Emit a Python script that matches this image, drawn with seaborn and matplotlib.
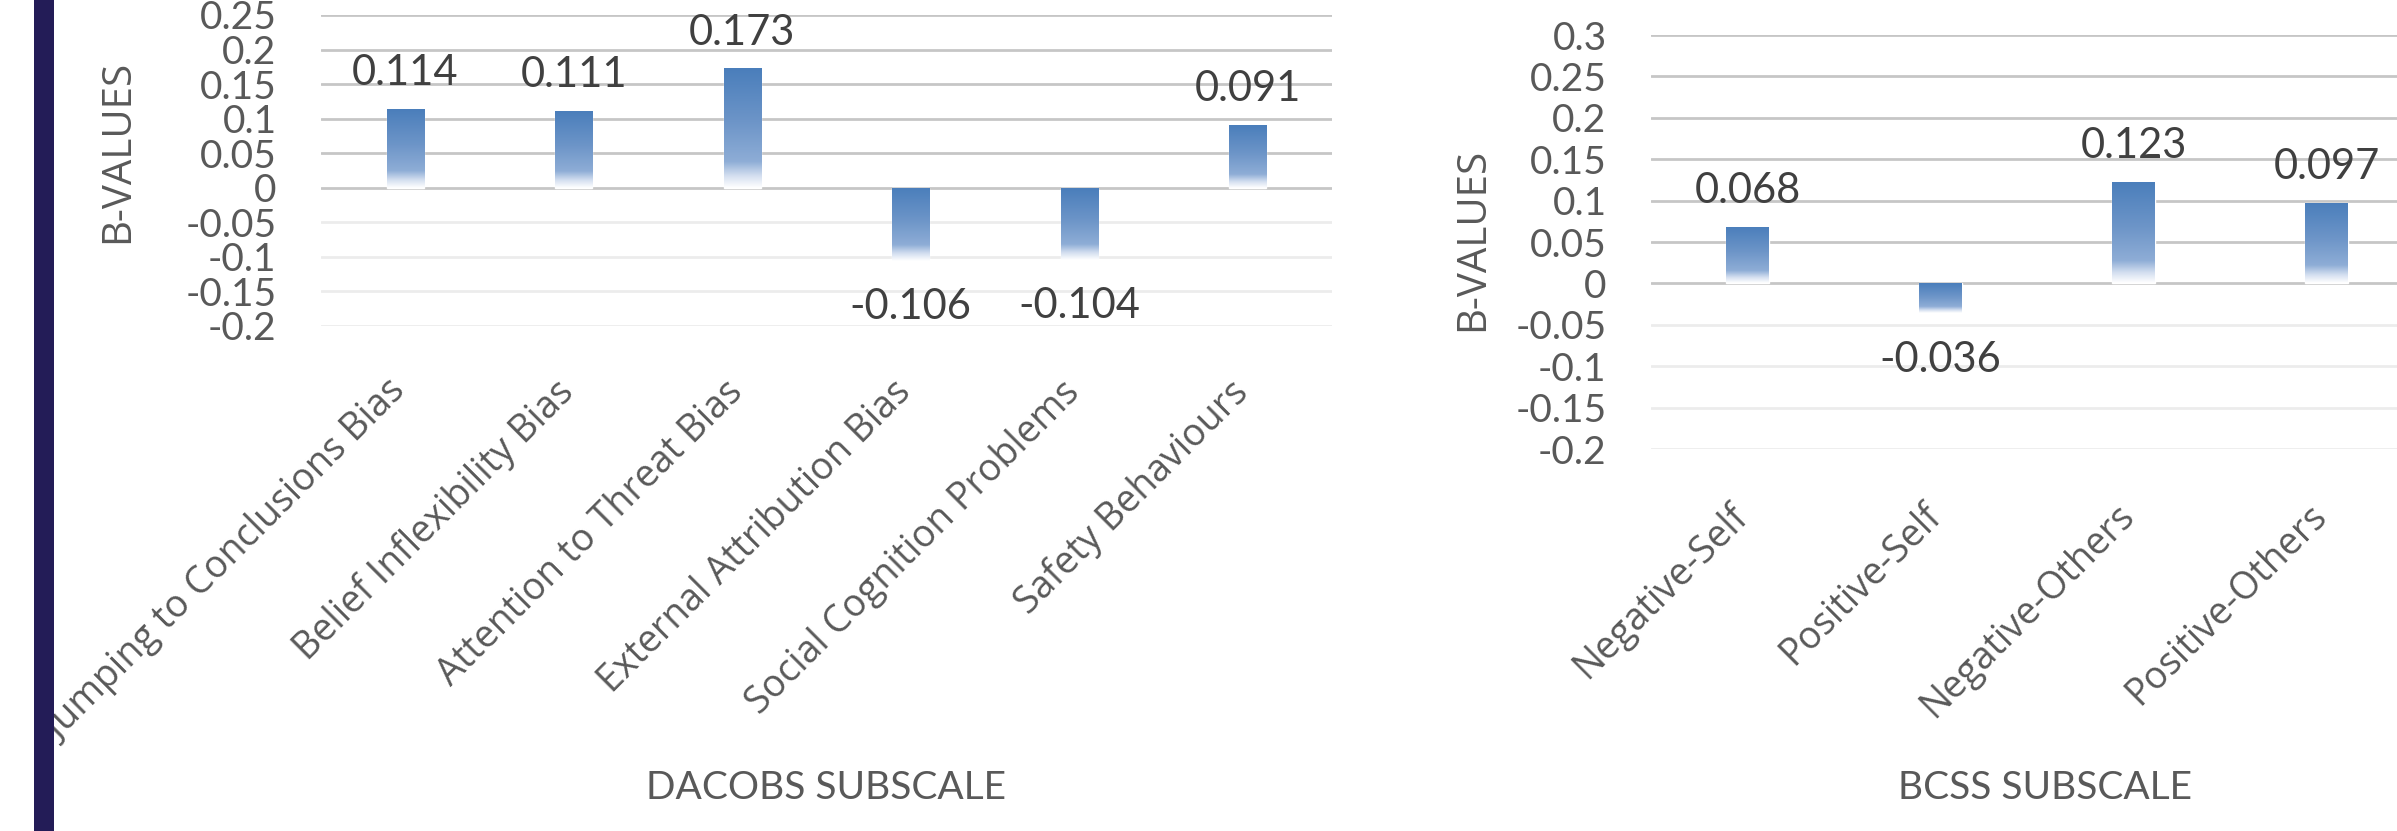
import numpy as np
import matplotlib
matplotlib.use("Agg")
import matplotlib.pyplot as plt
from matplotlib.colors import LinearSegmentedColormap
from matplotlib.patches import Rectangle
from matplotlib.transforms import ScaledTranslation
import seaborn as sns

# data
dacobs_labels = ["Jumping to Conclusions Bias", "Belief Inflexibility Bias",
                 "Attention to Threat Bias", "External Attribution Bias",
                 "Social Cognition Problems", "Safety Behaviours"]
dacobs_b = [0.114, 0.111, 0.173, -0.106, -0.104, 0.091]
bcss_labels = ["Negative-Self", "Positive-Self", "Negative-Others", "Positive-Others"]
bcss_b = [0.068, -0.036, 0.123, 0.097]
dacobs_ticks = [-0.2, -0.15, -0.1, -0.05, 0, 0.05, 0.1, 0.15, 0.2, 0.25]
bcss_ticks = [-0.2, -0.15, -0.1, -0.05, 0, 0.05, 0.1, 0.15, 0.2, 0.25, 0.3]

sns.set_theme(style="white")
plt.rcParams['font.family'] = ['Lato', 'DejaVu Sans']

W, H = 2397, 831
fig = plt.figure(figsize=(W / 100, H / 100), dpi=100)
fig.patches.append(Rectangle((34 / W, 0), 20 / W, 1, transform=fig.transFigure,
                             facecolor="#231c57", edgecolor="none", zorder=5))

grad = LinearSegmentedColormap.from_list(
    "bar", [(0, "#4a7ebb"), (0.45, "#6d95c8"), (0.78, "#8eadd6"), (0.9, "#d4dff0"), (1, "#ffffff")])


def gradient_bars(ax):
    for p in ax.patches:
        x0, w = p.get_x(), p.get_width()
        y0, h = p.get_y(), p.get_height()
        top, bot = max(y0, y0 + h), min(y0, y0 + h)
        p.set_facecolor("none")
        img = ax.imshow(np.linspace(0, 1, 256).reshape(-1, 1), cmap=grad, aspect="auto",
                        extent=(x0, x0 + w, bot, top), origin="upper", zorder=2)
        img.set_clip_path(p)


def panel(rect, labels, vals, ticks, xlabel, ylab_xy, xlab_xy):
    ax = fig.add_axes(rect)
    sns.barplot(x=labels, y=vals, ax=ax, width=0.22, color="#4a7ebb")
    ax.set_ylim(ticks[0], ticks[-1])
    ax.set_xlim(-0.5, len(labels) - 0.5)
    gradient_bars(ax)
    ax.set_yticks(ticks)
    ax.set_yticklabels([f"{t:g}" for t in ticks], fontsize=28, color="#595959")
    ax.tick_params(axis="y", length=0, pad=32)
    ax.tick_params(axis="x", length=0, pad=34)
    ax.set_xticks(range(len(labels)))
    ax.set_xticklabels(labels, rotation=45, ha="right", va="top",
                       fontsize=27, color="#595959", family="Open Sans")
    shift = ScaledTranslation(6 / 72, 0, fig.dpi_scale_trans)
    for lab in ax.get_xticklabels():
        lab.set_transform(lab.get_transform() + shift)
    ax.grid(axis="y", linewidth=2)
    for line, t in zip(ax.get_ygridlines(), ticks):
        line.set_color("#c6c6c6" if t >= 0 else "#ececec")
    ax.set_axisbelow(True)
    for s in ax.spines.values():
        s.set_visible(False)
    for i, v in enumerate(vals):
        off = 17 if v >= 0 else -42
        ax.annotate(f"{v:.3f}", (i, v), xytext=(0, off), textcoords="offset points",
                    ha="center", va="baseline", fontsize=30, color="#404040")
    ax.set_ylabel("B-VALUES", fontsize=29, color="#595959", family="Open Sans")
    ax.yaxis.label.set_va("center")
    ax.yaxis.set_label_coords(*ylab_xy)
    ax.set_xlabel(xlabel, fontsize=28, color="#595959")
    ax.xaxis.label.set_va("center")
    ax.xaxis.set_label_coords(*xlab_xy)
    return ax


panel([321 / W, (H - 326) / H, 1011 / W, 311 / H], dacobs_labels, dacobs_b, dacobs_ticks,
      "DACOBS SUBSCALE", (-0.2008, 0.56), (0.5, -1.486))
panel([1651 / W, (H - 449) / H, 772 / W, 414 / H], bcss_labels, bcss_b, bcss_ticks,
      "BCSS SUBSCALE", (-0.2306, 0.505), (0.51, -0.819))

fig.savefig("out.png", dpi=100)
